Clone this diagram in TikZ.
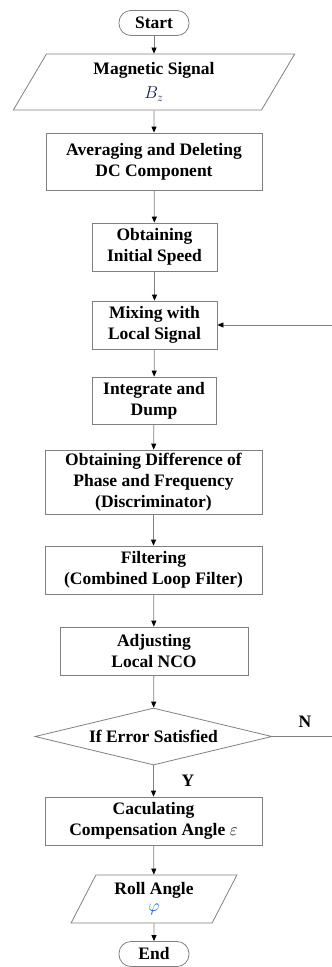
\documentclass[tikz,border=0pt]{standalone}
\usepackage{fontspec}
\setmainfont{Liberation Serif}
\usepackage{xcolor}
\usepackage{tikz}
\usetikzlibrary{arrows.meta,shapes.geometric}
\definecolor{linegray}{RGB}{128,128,128}
\definecolor{phiblue}{RGB}{0,102,204}
\definecolor{bzblue}{RGB}{20,30,70}

\begin{document}
\begin{tikzpicture}[
  x=1pt, y=-1pt,
  font=\fontsize{17.5}{21}\selectfont\bfseries,
  proc/.style={draw=linegray, line width=0.8pt, align=center, inner sep=0pt},
  term/.style={proc, rounded corners=12pt, minimum width=70, minimum height=25},
  io/.style={draw=linegray, line width=0.8pt, align=center, inner sep=0pt, trapezium, trapezium stretches=true},
  decide/.style={draw=linegray, line width=0.8pt, align=center, diamond, aspect=4.2, inner sep=0pt},
  lbl/.style={inner sep=0pt},
  arr/.style={draw=linegray, line width=0.8pt, -{Triangle[length=6pt, width=5pt, color=black]}},
  ln/.style={draw=linegray, line width=0.8pt}
]
\useasboundingbox (0,0) rectangle (332,967);
\node[term] (start) at (154,23) {Start};
\node[io, trapezium left angle=64.3, trapezium right angle=115.7, minimum width=282, minimum height=56] (mag) at (154,82) {Magnetic Signal\\[3pt]{\normalfont\color{bzblue}$B_z$}};
\node[proc, minimum width=216, minimum height=57] (avg) at (154,161.5) {Averaging and Deleting\\DC Component};
\node[proc, minimum width=125, minimum height=48] (speed) at (154.5,247) {Obtaining\\Initial Speed};
\node[proc, minimum width=125, minimum height=48] (mix) at (154.5,325) {Mixing with\\Local Signal};
\node[proc, minimum width=124, minimum height=47] (dump) at (154,400.5) {Integrate and\\Dump};
\node[proc, minimum width=217, minimum height=64] (diff) at (153.5,482) {Obtaining Difference of\\Phase and Frequency\\(Discriminator)};
\node[proc, minimum width=217, minimum height=48] (filt) at (153.5,570) {Filtering\\(Combined Loop Filter)};
\node[proc, minimum width=188, minimum height=48] (nco) at (154,651) {Adjusting\\Local NCO};
\node[decide, minimum width=237, minimum height=57] (err) at (153.5,736.5) {If Error Satisfied};
\node[proc, minimum width=217, minimum height=48] (comp) at (153.5,821) {Caculating\\Compensation Angle {\normalfont$\varepsilon$}};
\node[io, trapezium left angle=62.5, trapezium right angle=117.5, minimum width=166, minimum height=48] (roll) at (154,899) {Roll Angle\\[-4pt]{\normalfont\color{phiblue}$\varphi$}};
\node[term] (end) at (154,954) {End};
\node[lbl] (no) at (305,722) {N};
\node[lbl] (yes) at (188,781) {Y};
\coordinate (outN) at (332,736.5);
\coordinate (backM) at (332,325);
\draw[arr] (start) -- (mag);
\draw[arr] (mag) -- (avg);
\draw[arr] (avg) -- (speed);
\draw[arr] (speed) -- (mix);
\draw[arr] (mix) -- (dump);
\draw[arr] (dump) -- (diff);
\draw[arr] (diff) -- (filt);
\draw[arr] (filt) -- (nco);
\draw[arr] (nco) -- (err);
\draw[arr] (err) -- (comp);
\draw[arr] (comp) -- (roll);
\draw[arr] (roll) -- (end);
\draw[ln] (err.east) -- (outN);
\draw[arr] (backM) -- (mix.east);
\end{tikzpicture}
\end{document}
